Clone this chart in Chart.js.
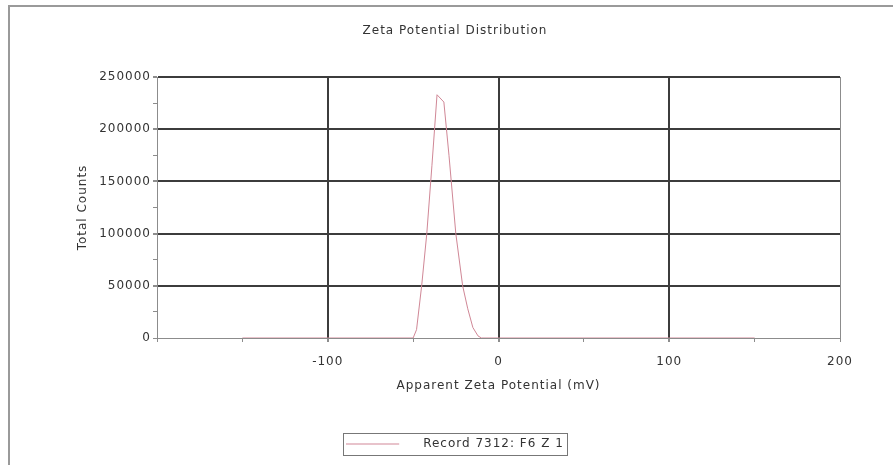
<!DOCTYPE html>
<html>
<head>
<meta charset="utf-8">
<script src="https://cdn.jsdelivr.net/npm/chart.js@4.4.0/dist/chart.umd.min.js"></script>
<style>
  html, body { margin: 0; padding: 0; background: #fff; }
  #wrap { position: relative; width: 893px; height: 465px; }
</style>
</head>
<body>
<div id="wrap"><canvas id="zetaChart" width="893" height="465"></canvas></div>
<script>
// Zeta potential distribution
const zetaMv = [-150, -50, -48, -45, -42, -39, -36, -32, -29, -25, -21, -18, -15, -12, -10, 150];
const totalCounts = [0, 0, 8000, 50000, 100000, 165000, 233000, 226000, 175000, 100000, 50000, 28000, 10000, 2000, 0, 0];
const xTickLabels = [-100, 0, 100, 200];
const yTickLabels = [0, 50000, 100000, 150000, 200000, 250000];
const seriesName = 'Record 7312: F6 Z 1';

const textColor = '#333';
const gridDark = '#3c3c3c';
const axisGray = '#8c8c8c';
const lineColor = '#d08796';
const font = { family: '"DejaVu Sans", sans-serif', size: 12, weight: 'normal' };

// little line sample for the legend (line + gap before the text)
const legendLine = document.createElement('canvas');
legendLine.width = 71;
legendLine.height = 3;
const lctx = legendLine.getContext('2d');
lctx.strokeStyle = lineColor;
lctx.lineWidth = 1;
lctx.beginPath();
lctx.moveTo(0, 1.5);
lctx.lineTo(53, 1.5);
lctx.stroke();

// text in the original is a bit wide, add some tracking
const spacingPlugin = {
  id: 'spacing',
  beforeLayout(chart) { chart.ctx.letterSpacing = '1px'; },
  beforeDraw(chart) { chart.ctx.letterSpacing = '1px'; }
};

// white page, frame lines and the legend box
const framePlugin = {
  id: 'frame',
  beforeDraw(chart) {
    const ctx = chart.ctx;
    ctx.save();
    ctx.fillStyle = '#fff';
    ctx.fillRect(0, 0, chart.width, chart.height);
    ctx.strokeStyle = '#9a9a9a';
    ctx.lineWidth = 2;
    ctx.beginPath();
    ctx.moveTo(9, chart.height);
    ctx.lineTo(9, 6);
    ctx.lineTo(chart.width, 6);
    ctx.stroke();
    ctx.restore();
  },
  afterDraw(chart) {
    const hb = chart.legend.legendHitBoxes[0];
    if (!hb) return;
    const ctx = chart.ctx;
    ctx.save();
    ctx.strokeStyle = '#777';
    ctx.lineWidth = 1;
    ctx.strokeRect(Math.round(hb.left - 3) + 0.5, Math.round(hb.top - 5) + 0.5, Math.round(hb.width + 6), Math.round(hb.height + 10));
    ctx.restore();
  }
};

const points = zetaMv.map((x, i) => ({ x: x, y: totalCounts[i] }));

new Chart(document.getElementById('zetaChart'), {
  type: 'line',
  data: {
    datasets: [{
      label: seriesName,
      data: points,
      borderColor: lineColor,
      backgroundColor: lineColor,
      borderWidth: 1,
      pointRadius: 0,
      tension: 0,
      fill: false
    }]
  },
  options: {
    responsive: false,
    animation: false,
    devicePixelRatio: 1,
    layout: { padding: { left: 70, right: 53, top: 0, bottom: 5 } },
    plugins: {
      title: {
        display: true,
        text: 'Zeta Potential Distribution',
        color: textColor,
        font: font,
        padding: { top: 24, bottom: 38.6 }
      },
      legend: {
        position: 'bottom',
        labels: {
          color: textColor,
          font: font,
          padding: 10,
          usePointStyle: true,
          pointStyle: legendLine,
          pointStyleWidth: 71
        }
      },
      tooltip: { enabled: false }
    },
    scales: {
      x: {
        type: 'linear',
        min: -200,
        max: 200,
        afterFit(scale) { scale.height = 90; },
        ticks: {
          stepSize: 50,
          autoSkip: false,
          maxRotation: 0,
          padding: 13,
          color: textColor,
          font: font,
          callback: v => (xTickLabels.includes(v) ? String(v) : '')
        },
        grid: {
          color: c => (c.tick && [-100, 0, 100].includes(c.tick.value)) ? gridDark
            : (c.tick && c.tick.value === 200 ? axisGray : 'rgba(0,0,0,0)'),
          lineWidth: c => (c.tick && [-100, 0, 100].includes(c.tick.value)) ? 2 : 1,
          tickColor: axisGray,
          tickLength: 4
        },
        border: { color: axisGray, width: 1 },
        title: {
          display: true,
          text: 'Apparent Zeta Potential (mV)',
          color: textColor,
          font: font,
          padding: { top: 0, bottom: 35 }
        }
      },
      y: {
        min: 0,
        max: 250000,
        afterFit(scale) { scale.width = 87; },
        ticks: {
          stepSize: 25000,
          autoSkip: false,
          padding: 2,
          color: textColor,
          font: font,
          callback: v => (yTickLabels.includes(v) ? String(v) : '')
        },
        grid: {
          color: c => (c.tick && c.tick.value > 0 && c.tick.value % 50000 === 0) ? gridDark : 'rgba(0,0,0,0)',
          lineWidth: c => (c.tick && c.tick.value > 0 && c.tick.value % 50000 === 0) ? 2 : 1,
          tickColor: axisGray,
          tickLength: 4
        },
        border: { color: axisGray, width: 1 },
        title: {
          display: true,
          text: 'Total Counts',
          color: textColor,
          font: font,
          padding: { top: 6, bottom: 0 }
        }
      }
    }
  },
  plugins: [spacingPlugin, framePlugin]
});
</script>
</body>
</html>
